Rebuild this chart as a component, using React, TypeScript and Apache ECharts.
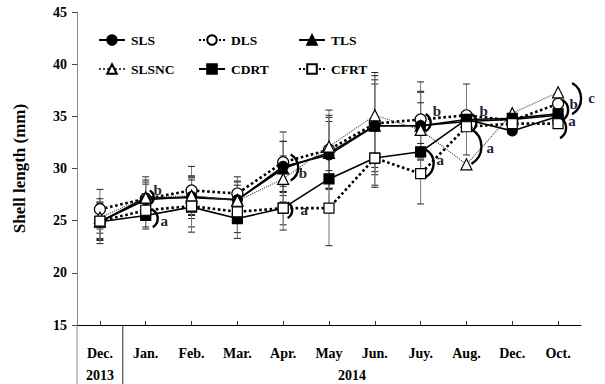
import React, { useEffect, useRef } from "react";
import * as echarts from "echarts";

const categories = ["Dec.", "Jan.", "Feb.", "Mar.", "Apr.", "May", "Jun.", "Juy.", "Aug.", "Dec.", "Oct."];
const yearLabels = ["2013", "2014"];
const seriesNames = ["DLS", "SLS", "TLS", "SLSNC", "CDRT", "CFRT"];

const SLS = [24.9, 27.0, 27.3, 27.0, 30.2, 31.3, 34.1, 34.1, 34.7, 33.6, 35.0];
const DLS = [26.1, 27.1, 27.9, 27.6, 30.6, 31.8, 34.3, 34.7, 35.1, 34.6, 36.2];
const TLS = [24.9, 27.2, 27.2, 27.0, 30.0, 31.5, 34.1, 34.1, 34.5, 34.7, 35.1];
const SLSNC = [25.3, 27.2, 27.4, 26.9, 29.0, 32.1, 35.1, 33.7, 30.4, 35.3, 37.3];
const CDRT = [24.9, 25.5, 26.3, 25.2, 26.2, 29.0, 31.0, 31.6, 34.7, 34.8, 35.25];
const CFRT = [24.95, 26.0, 26.4, 25.85, 26.2, 26.2, 31.0, 29.5, 34.0, 34.3, 34.3];

const SLS_SD = [1.6, 1.5, 1.8, 1.7, 2.4, 3.2, 4.0, 3.2, 3.4, 0, 0];
const DLS_SD = [1.9, 1.6, 2.3, 1.6, 2.9, 3.8, 4.9, 3.6, 0, 0, 0];
const TLS_SD = [1.7, 2.0, 2.0, 1.8, 2.6, 3.4, 4.4, 3.3, 0, 0, 0];
const SLSNC_SD = [1.5, 1.7, 1.9, 1.5, 2.2, 3.0, 3.8, 2.6, 0, 0, 0];
const CDRT_SD = [1.8, 1.3, 1.9, 1.9, 1.6, 2.6, 2.6, 2.5, 0, 0, 0];
const CFRT_SD = [2.15, 1.6, 2.5, 2.0, 2.1, 3.6, 2.8, 2.9, 0, 0, 0];

// significance letters: category index, value level, letter
const noteCats = [1, 1, 4, 4, 7, 7, 8, 8, 10, 10, 10];
const noteValues = [27.9, 25.0, 29.6, 26.05, 35.55, 30.8, 35.5, 32.0, 36.15, 34.55, 36.75];
const noteLetters = ["b", "a", "b", "a", "b", "a", "b", "a", "b", "a", "c"];
// brackets: category index, value of centre
const bracketCats = [1, 1, 4, 4, 7, 7, 8, 8, 10, 10, 10];
const bracketValues = [27.23, 25.2, 30.1, 26.0, 34.4, 30.5, 34.4, 32.1, 35.6, 33.9, 36.7];

const FONT = "Liberation Serif, Times New Roman, serif";

export default function App() {
  const ref = useRef<HTMLDivElement>(null);

  useEffect(() => {
    document.body.style.margin = "0";
    if (!ref.current) return;
    const chart = echarts.init(ref.current, undefined, { renderer: "svg" });

    const dataMap: Record<string, number[]> = { SLS, DLS, TLS, SLSNC, CDRT, CFRT };
    const sdMap: Record<string, number[]> = {
      SLS: SLS_SD, DLS: DLS_SD, TLS: TLS_SD, SLSNC: SLSNC_SD, CDRT: CDRT_SD, CFRT: CFRT_SD,
    };
    const styleMap: Record<string, any> = {
      SLS: { symbol: "circle", size: 10, fill: "#000", type: "solid", width: 1.6, color: "#000" },
      DLS: { symbol: "circle", size: 11, fill: "#fff", type: "dotted", width: 2.6, color: "#000" },
      TLS: { symbol: "triangle", size: 11, fill: "#000", type: "solid", width: 1.6, color: "#000" },
      SLSNC: { symbol: "triangle", size: 11, fill: "#fff", type: "dotted", width: 1.1, color: "#444" },
      CDRT: { symbol: "rect", size: 10, fill: "#000", type: "solid", width: 1.6, color: "#000" },
      CFRT: { symbol: "rect", size: 10, fill: "#fff", type: "dotted", width: 2.6, color: "#000" },
    };

    const errData: number[][] = [];
    seriesNames.forEach((n) => {
      dataMap[n].forEach((v, i) => {
        const e = sdMap[n][i];
        if (e > 0) errData.push([i, v - e, v + e]);
      });
    });

    const lineSeries = seriesNames.map((n) => {
      const s = styleMap[n];
      return {
        name: n,
        type: "line",
        data: dataMap[n],
        symbol: s.symbol,
        symbolSize: s.size,
        showAllSymbol: true,
        lineStyle: { color: s.color, width: s.width, type: s.type },
        itemStyle: { color: s.fill, borderColor: "#000", borderWidth: 1.2 },
        z: 3,
      };
    });

    const legendPos: Record<string, [number, number]> = {
      SLS: [98, 33],
      DLS: [198, 33],
      TLS: [298, 33],
      SLSNC: [98, 62],
      CDRT: [198, 62],
      CFRT: [298, 62],
    };
    const legends = Object.keys(legendPos).map((n) => ({
      data: [n],
      left: legendPos[n][0],
      top: legendPos[n][1],
      padding: 0,
      itemWidth: 26,
      itemHeight: 12,
      selectedMode: false,
      textStyle: { fontFamily: FONT, fontWeight: "bold", fontSize: 13.5, color: "#000", padding: [0, 0, 0, 1] },
    }));

    const option: any = {
      animation: false,
      backgroundColor: "#fff",
      grid: { left: 77, right: 24, top: 12, bottom: 59, containLabel: false },
      legend: legends,
      xAxis: {
        type: "category",
        data: categories,
        boundaryGap: true,
        axisLine: { show: true, lineStyle: { color: "#000", width: 1 } },
        axisTick: { show: true, inside: true, alignWithLabel: true, length: 4, lineStyle: { color: "#333" } },
        axisLabel: { interval: 0, fontFamily: FONT, fontWeight: "bold", fontSize: 14, color: "#000", margin: 21 },
        splitLine: { show: false },
      },
      yAxis: {
        type: "value",
        min: 15,
        max: 45,
        interval: 5,
        axisLine: { show: true, lineStyle: { color: "#888", width: 1 } },
        axisTick: { show: true, length: 5, lineStyle: { color: "#444" } },
        splitLine: { show: false },
        axisLabel: { fontFamily: FONT, fontWeight: "bold", fontSize: 14, color: "#000", margin: 10 },
        name: "Shell length (mm)",
        nameLocation: "middle",
        nameGap: 49,
        nameTextStyle: { fontFamily: FONT, fontWeight: "bold", fontSize: 17, color: "#000" },
      },
      series: [
        {
          type: "custom",
          name: "err",
          data: errData,
          encode: { x: 0, y: [1, 2] },
          z: 2,
          silent: true,
          renderItem: (params: any, api: any) => {
            const x = api.value(0);
            const top = api.coord([x, api.value(2)]);
            const bot = api.coord([x, api.value(1)]);
            const w = 3.5;
            return {
              type: "group",
              children: [
                { type: "line", shape: { x1: top[0], y1: top[1], x2: bot[0], y2: bot[1] }, style: { stroke: "#777", lineWidth: 1 } },
                { type: "line", shape: { x1: top[0] - w, y1: top[1], x2: top[0] + w, y2: top[1] }, style: { stroke: "#222", lineWidth: 1 } },
                { type: "line", shape: { x1: bot[0] - w, y1: bot[1], x2: bot[0] + w, y2: bot[1] }, style: { stroke: "#222", lineWidth: 1 } },
              ],
            };
          },
        },
        ...lineSeries,
      ],
    };

    chart.setOption(option);

    const px = (i: number, v: number) => chart.convertToPixel({ gridIndex: 0 } as any, [i, v]) as number[];
    const p0 = px(0, 15);
    const p1 = px(1, 15);
    const pLast = px(categories.length - 1, 15);
    const band = p1[0] - p0[0];
    const axisY = p0[1];
    const leftX = p0[0] - band / 2;
    const sepX = p0[0] + band / 2;
    const rightX = pLast[0] + band / 2;

    const graphics: any[] = [];
    graphics.push({ type: "line", z: 10, shape: { x1: leftX, y1: axisY, x2: leftX, y2: 384 }, style: { stroke: "#888", lineWidth: 1 } });
    graphics.push({ type: "line", z: 10, shape: { x1: sepX, y1: axisY, x2: sepX, y2: 384 }, style: { stroke: "#222", lineWidth: 1 } });
    graphics.push({
      type: "text", z: 10,
      style: { text: yearLabels[0], x: p0[0], y: 375, align: "center", verticalAlign: "middle", font: `bold 14px ${FONT}`, fill: "#000" },
    });
    graphics.push({
      type: "text", z: 10,
      style: { text: yearLabels[1], x: (sepX + rightX) / 2, y: 375, align: "center", verticalAlign: "middle", font: `bold 14px ${FONT}`, fill: "#000" },
    });

    const noteDx = [12, 18.6, 19.7, 21, 16.3, 19.7, 17.3, 23.7, 15.5, 13.8, 33.5];
    const bracketDx = [0, 2, 0, 0, 0, -3, 0, -5, -2, -4, 5];
    const bracketR = [8, 10, 15, 9, 10, 16, 10, 20, 12, 12, 18];

    noteLetters.forEach((t, k) => {
      const p = px(noteCats[k], noteValues[k]);
      graphics.push({
        type: "text", z: 20,
        style: { text: t, x: p[0] + noteDx[k], y: p[1], align: "center", verticalAlign: "middle", font: `bold 15px ${FONT}`, fill: "#1c2541" },
      });
    });
    bracketCats.forEach((c, k) => {
      const p = px(c, bracketValues[k]);
      graphics.push({
        type: "arc", z: 20,
        shape: { cx: p[0] + bracketDx[k], cy: p[1], r: bracketR[k], startAngle: -Math.PI / 3, endAngle: Math.PI / 3, clockwise: true },
        style: { stroke: "#000", lineWidth: 2.4, fill: null },
      });
    });

    chart.setOption({ graphic: graphics });

    return () => chart.dispose();
  }, []);

  return <div ref={ref} style={{ width: 605, height: 384 }} />;
}
